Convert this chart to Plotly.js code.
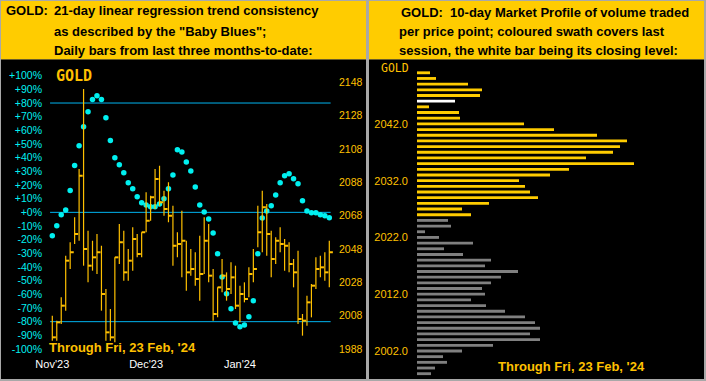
<!DOCTYPE html>
<html><head><meta charset="utf-8">
<script src="https://cdn.plot.ly/plotly-3.0.1.min.js"></script>
<style>html,body{margin:0;padding:0;background:#fff;overflow:hidden}#chart{width:706px;height:381px}</style>
</head><body><div id="chart"></div>
<script>
// ---- Left panel: daily bars (price) ----
const barHigh  = [2008,2005,2019,2044,2052,2067,2096,2144,2059,2053,2057,2050,2024,2012,2043,2063,2059,2048,2061,2057,2058,
                  2082,2080,2096,2098,2083,2088,2074,2058,2071,2053,2048,2046,2056,2067,2063,2036,2025,2042,2034,2040,2038,
                  2026,2028,2037,2048,2074,2083,2075,2059,2055,2061,2054,2052,2042,2047,2009,2020,2027,2043,2044,2046,2053];
const barLow   = [1993,1993,2003,2011,2036,2051,2053,2038,2028,2035,2033,2011,1993,1993,1992,2039,2029,2029,2035,2043,2043,
                  2058,2065,2072,2074,2068,2064,2038,2043,2031,2023,2032,2026,2017,2033,2028,2005,2007,2022,2017,2021,2012,
                  2004,2016,2019,2028,2049,2046,2044,2031,2039,2046,2035,2034,2025,2003,1996,2002,2007,2024,2031,2029,2025];
const barClose = [1995,2004,2014,2041,2046,2057,2092,2048,2038,2043,2046,2021,1998,1995,2043,2052,2034,2041,2054,2045,2058,
                  2065,2079,2090,2076,2072,2068,2050,2051,2053,2034,2036,2030,2033,2053,2032,2009,2025,2032,2024,2031,2014,
                  2021,2018,2033,2036,2058,2073,2057,2042,2053,2051,2050,2039,2034,2006,2005,2016,2026,2036,2037,2034,2046];
// "Baby Blues": 21-day linear regression trend consistency (%)
const babyBlues = [-17.1,-9.8,-1.7,1.7,15.9,34.2,48.8,62.7,73.7,82.5,85.4,82.5,69.3,52.5,40.0,34.9,29.0,21.7,17.3,11.5,7.1,
                   5.4,4.1,4.1,6.1,10.0,17.3,27.3,45.9,44.2,36.8,30.3,18.5,5.4,0.2,-4.9,-15.1,-30.3,-47.3,-59.5,-70.5,-81.0,
                   -83.7,-82.5,-76.4,-64.7,-30.3,-4.2,1.0,4.9,12.7,21.7,26.8,28.3,24.6,21.0,8.5,1.0,-0.3,-0.3,-1.7,-2.5,-3.9];
const monthTickIndex  = [0, 21, 42];
const monthTickLabels = ["Nov'23", "Dec'23", "Jan'24"];
const pctTicks   = [-100,-90,-80,-70,-60,-50,-40,-30,-20,-10,0,10,20,30,40,50,60,70,80,90,100];
const priceTicks = [1988,2008,2028,2048,2068,2088,2108,2128,2148];
const bandLevels = [80, 0, -80];

// ---- Right panel: 10-day market profile ----
const profilePrices = [2051,2050,2049,2048,2047,2046,2045,2044,2043,2042,2041,2040,2039,2038,2037,2036,2035,2034,
                       2033,2032,2031,2030,2029,2028,2027,2026,2025,2024,2023,2022,2021,2020,2019,2018,2017,2016,
                       2015,2014,2013,2012,2011,2010,2009,2008,2007,2006,2005,2004,2003,2002,2001,2000,1999,1998];
const profileVolume = [13,19,51,65,63,38,12,42,43,107,137,180,210,203,196,169,217,152,
                       133,102,108,113,121,72,45,54,31,34,8,22,56,27,46,74,68,101,
                       84,74,65,68,54,69,88,108,118,123,113,123,76,45,26,30,18,14];
const sessionLow = 2026, sessionHigh = 2051, sessionClose = 2046;
const profileTicks = [2002, 2012, 2022, 2032, 2042];
const throughText = "Through Fri, 23 Feb, '24";

// ---- helpers for pixel -> paper ----
const W = 706, H = 381;
const px = v => v / W;
const py = v => 1 - v / H;

const idx = barClose.map((_, i) => i);
const YEL = '#FFC000', HDR = '#FFCC00', CYAN = '#00F0F0', LINE = '#00B4F0';
const SANS = 'Liberation Sans, Arial, sans-serif';
const MONO = 'DejaVu Sans Mono, monospace';

const profileColors = profilePrices.map(p =>
  p === sessionClose ? '#FFFFFF' : (p >= sessionLow && p <= sessionHigh ? HDR : '#808080'));

const traces = [
  { // daily bars: vertical high-low line + right close tick
    type: 'scatter', mode: 'markers', x: idx, y: barClose, xaxis: 'x', yaxis: 'y2',
    marker: { size: 1, color: 'rgba(0,0,0,0)' },
    error_y: { type: 'data', symmetric: false,
      array: barHigh.map((h, i) => h - barClose[i]),
      arrayminus: barLow.map((l, i) => barClose[i] - l),
      color: YEL, thickness: 1.2, width: 0 },
    error_x: { type: 'constant', symmetric: false, value: 0.8, valueminus: 0,
      color: YEL, thickness: 2, width: 0 },
    hoverinfo: 'skip', cliponaxis: false
  },
  { // Baby Blues
    type: 'scatter', mode: 'markers', x: idx, y: babyBlues, xaxis: 'x', yaxis: 'y',
    marker: { size: 5.5, color: CYAN }, hoverinfo: 'skip', cliponaxis: false
  },
  { // market profile
    type: 'bar', orientation: 'h', x: profileVolume, y: profilePrices, xaxis: 'x2', yaxis: 'y3',
    width: 0.5, marker: { color: profileColors, line: { width: 0 } }, hoverinfo: 'skip'
  }
];

const shapes = [
  { type: 'rect', xref: 'paper', yref: 'paper', x0: px(1), x1: px(366), y0: py(1), y1: py(59.5), fillcolor: HDR, line: { width: 0 }, layer: 'below' },
  { type: 'rect', xref: 'paper', yref: 'paper', x0: px(369), x1: px(704), y0: py(1), y1: py(59.5), fillcolor: HDR, line: { width: 0 }, layer: 'below' },
  { type: 'rect', xref: 'paper', yref: 'paper', x0: px(1), x1: px(366), y0: py(59.5), y1: py(379), fillcolor: '#000', line: { width: 0 }, layer: 'below' },
  { type: 'rect', xref: 'paper', yref: 'paper', x0: px(369), x1: px(704), y0: py(59.5), y1: py(379), fillcolor: '#000', line: { width: 0 }, layer: 'below' }
].concat(bandLevels.map(lv => ({
  type: 'line', xref: 'x', yref: 'y', x0: -0.5, x1: barClose.length - 0.7, y0: lv, y1: lv,
  line: { color: LINE, width: 1 }, layer: 'below'
})));

const hdr = (text, x, y) => ({ text, x: px(x), y: py(y), xref: 'paper', yref: 'paper',
  xanchor: 'left', yanchor: 'middle', showarrow: false,
  font: { family: SANS, size: 13, color: '#000', weight: 'bold' } });

const annotations = [
  hdr('GOLD:', 4, 11), hdr('21-day linear regression trend consistency', 52, 11),
  hdr('as described by the "Baby Blues";', 52, 31),
  hdr('Daily bars from last three months-to-date:', 52, 50.5),
  hdr('GOLD:  10-day Market Profile of volume traded', 399, 12.7),
  hdr('per price point; coloured swath covers last', 397, 31.7),
  hdr('session, the white bar being its closing level:', 397, 50.7),
  { text: 'GOLD', x: px(54), y: py(76), xref: 'paper', yref: 'paper', xanchor: 'left', yanchor: 'middle',
    showarrow: false, font: { family: MONO, size: 15, color: YEL, weight: 'bold' } },
  { text: 'GOLD', x: px(379), y: py(68), xref: 'paper', yref: 'paper', xanchor: 'left', yanchor: 'middle',
    showarrow: false, font: { family: MONO, size: 11.5, color: YEL } },
  { text: throughText, x: px(47), y: py(347.5), xref: 'paper', yref: 'paper', xanchor: 'left', yanchor: 'middle',
    showarrow: false, font: { family: SANS, size: 13, color: YEL, weight: 'bold' } },
  { text: throughText, x: px(496), y: py(366.5), xref: 'paper', yref: 'paper', xanchor: 'left', yanchor: 'middle',
    showarrow: false, font: { family: SANS, size: 13, color: YEL, weight: 'bold' } }
];

const pxPerBar = 277 / 62;
const layout = {
  width: W, height: H, margin: { l: 0, r: 0, t: 0, b: 0 },
  paper_bgcolor: '#A8A8A8', plot_bgcolor: 'rgba(0,0,0,0)', showlegend: false,
  xaxis: { domain: [px(44), px(336)], range: [-(52.3 - 44) / pxPerBar, 62 + (336 - 329.3) / pxPerBar],
    showgrid: false, zeroline: false, showline: false, ticks: '',
    tickvals: monthTickIndex, ticktext: monthTickLabels, ticklabelstandoff: 7,
    tickfont: { family: SANS, size: 11, color: '#FFFFFF' }, fixedrange: true },
  yaxis: { domain: [py(349), py(75.7)], range: [-100, 100], anchor: 'x', side: 'left',
    showgrid: false, zeroline: false, showline: false, ticks: '',
    tickvals: pctTicks, ticktext: pctTicks.map(v => (v >= 0 ? '+' : '') + v + '%'),
    ticklabelstandoff: 1, tickfont: { family: SANS, size: 10.5, color: CYAN } },
  yaxis2: { overlaying: 'y', anchor: 'x', side: 'right', range: [1988, 2152],
    showgrid: false, zeroline: false, showline: false, ticks: '', tickvals: priceTicks,
    ticklabelstandoff: 2, tickfont: { family: SANS, size: 10.5, color: YEL } },
  xaxis2: { domain: [px(417), px(704)], range: [0, 287], anchor: 'y3',
    showgrid: false, zeroline: false, showline: false, showticklabels: false, ticks: '' },
  yaxis3: { domain: [py(378), py(62)], range: [1997.24, 2052.9], anchor: 'x2', side: 'left',
    showgrid: false, zeroline: false, showline: false, ticks: '',
    tickvals: profileTicks, ticktext: profileTicks.map(v => v.toFixed(1)),
    ticklabelstandoff: 8, tickfont: { family: SANS, size: 11, color: YEL } },
  shapes, annotations
};

Plotly.newPlot('chart', traces, layout, { staticPlot: true, displayModeBar: false });
</script>
</body></html>
